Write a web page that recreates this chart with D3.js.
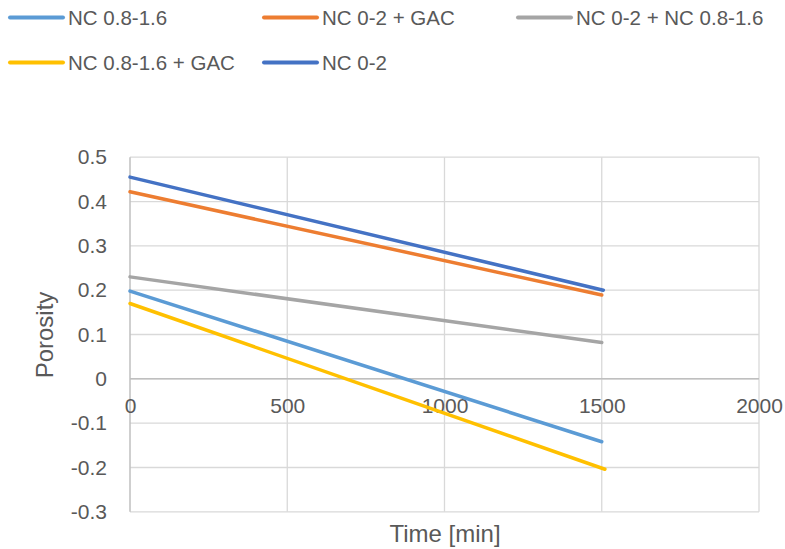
<!DOCTYPE html>
<html>
<head>
<meta charset="utf-8">
<script src="https://cdn.jsdelivr.net/npm/d3@7"></script>
<style>
  html, body { margin: 0; padding: 0; background: #fff; }
  svg { display: block; font-family: "Liberation Sans", Arial, sans-serif; }
</style>
</head>
<body>
<svg id="chart" width="785" height="549"></svg>
<script>
// ---- Data ----
const seriesNames = ["NC 0.8-1.6", "NC 0-2 + GAC", "NC 0-2 + NC 0.8-1.6", "NC 0.8-1.6 + GAC", "NC 0-2"];
const seriesColors = ["#5B9BD5", "#ED7D31", "#A5A5A5", "#FFC000", "#4472C4"];
const timeNC0816 = [0, 1500];
const poroNC0816 = [0.198, -0.142];
const timeNC02GAC = [0, 1500];
const poroNC02GAC = [0.422, 0.189];
const timeNC02NC0816 = [0, 1500];
const poroNC02NC0816 = [0.230, 0.082];
const timeNC0816GAC = [0, 1510];
const poroNC0816GAC = [0.170, -0.204];
const timeNC02 = [0, 1505];
const poroNC02 = [0.455, 0.200];
const xTicks = [0, 500, 1000, 1500, 2000];
const yTicks = [-0.3, -0.2, -0.1, 0, 0.1, 0.2, 0.3, 0.4, 0.5];

const seriesData = [
  [timeNC0816, poroNC0816],
  [timeNC02GAC, poroNC02GAC],
  [timeNC02NC0816, poroNC02NC0816],
  [timeNC0816GAC, poroNC0816GAC],
  [timeNC02, poroNC02]
].map(([t, p], i) => ({ name: seriesNames[i], color: seriesColors[i], pts: t.map((xv, j) => ({ x: xv, y: p[j] })) }));

// ---- Layout ----
const svg = d3.select("#chart");
const plotL = 130, plotR = 759, plotT = 157.2, plotB = 511.8;
const xS = d3.scaleLinear().domain([0, 2000]).range([plotL, plotR]);
const yS = d3.scaleLinear().domain([-0.3, 0.5]).range([plotB, plotT]);
const textColor = "#595959";

// gridlines
const grid = svg.append("g");
grid.selectAll("line.h").data(yTicks).join("line").attr("class", "h")
  .attr("x1", plotL).attr("x2", plotR)
  .attr("y1", d => yS(d)).attr("y2", d => yS(d))
  .attr("stroke", "#D9D9D9").attr("stroke-width", 1.3);
grid.selectAll("line.v").data(xTicks.slice(1)).join("line").attr("class", "v")
  .attr("x1", d => xS(d)).attr("x2", d => xS(d))
  .attr("y1", plotT).attr("y2", plotB)
  .attr("stroke", "#D9D9D9").attr("stroke-width", 1.3);

// axes lines
svg.append("line").attr("x1", plotL).attr("x2", plotL).attr("y1", plotT).attr("y2", plotB)
  .attr("stroke", "#BFBFBF").attr("stroke-width", 1.5);
svg.append("line").attr("x1", plotL).attr("x2", plotR).attr("y1", yS(0)).attr("y2", yS(0))
  .attr("stroke", "#BFBFBF").attr("stroke-width", 1.5);

// y tick labels
const yAxis = d3.axisLeft(yS).tickValues(yTicks).tickSize(0).tickPadding(0)
  .tickFormat(d => String(Math.round(d * 10) / 10));
const gy = svg.append("g").attr("transform", "translate(107,0)").call(yAxis);
gy.select(".domain").remove();
gy.selectAll("text").attr("fill", textColor).style("font-size", "21px")
  .style("font-family", "Liberation Sans, Arial, sans-serif");

// x tick labels
const xAxis = d3.axisBottom(xS).tickValues(xTicks).tickSize(0).tickPadding(0)
  .tickFormat(d => String(d));
const gx = svg.append("g").attr("transform", `translate(0,${yS(0) + 19})`).call(xAxis);
gx.select(".domain").remove();
gx.selectAll("text").attr("fill", textColor).style("font-size", "21px")
  .style("font-family", "Liberation Sans, Arial, sans-serif");

// series lines
const lineGen = d3.line().x(d => xS(d.x)).y(d => yS(d.y));
svg.append("g").selectAll("path").data(seriesData).join("path")
  .attr("d", d => lineGen(d.pts))
  .attr("fill", "none")
  .attr("stroke", d => d.color)
  .attr("stroke-width", 3.5)
  .attr("stroke-linecap", "round");

// axis titles
svg.append("text").attr("x", 445).attr("y", 542).attr("text-anchor", "middle")
  .attr("fill", textColor).style("font-size", "24px").text("Time [min]");
svg.append("text").attr("transform", "translate(53,335) rotate(-90)").attr("text-anchor", "middle")
  .attr("fill", textColor).style("font-size", "24px").text("Porosity");

// legend
const legendPos = [[10, 17.5], [264, 17.5], [518, 17.5], [10, 62.5], [264, 62.5]];
const lg = svg.append("g").selectAll("g").data(seriesData).join("g")
  .attr("transform", (d, i) => `translate(${legendPos[i][0]},${legendPos[i][1]})`);
lg.append("line").attr("x1", 0).attr("x2", 53).attr("y1", 0).attr("y2", 0)
  .attr("stroke", d => d.color).attr("stroke-width", 4).attr("stroke-linecap", "round");
lg.append("text").attr("x", 58).attr("y", 7.5).attr("fill", textColor)
  .style("font-size", "20.5px").text(d => d.name);
</script>
</body>
</html>
